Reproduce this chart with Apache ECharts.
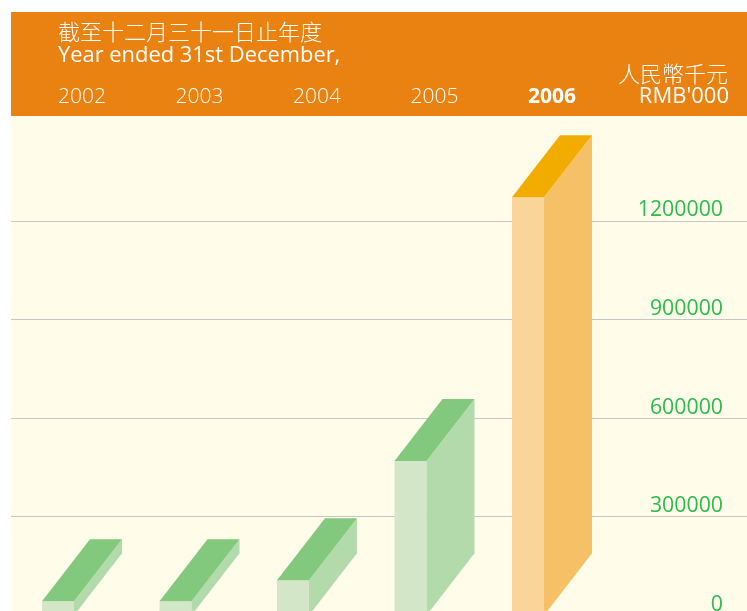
<!DOCTYPE html>
<html>
<head>
<meta charset="utf-8">
<title>Year ended 31st December</title>
<style>
html,body{margin:0;padding:0;background:#fff;}
#main{width:747px;height:611px;}
</style>
<script src="https://cdn.jsdelivr.net/npm/echarts@6/dist/echarts.min.js"></script>
</head>
<body>
<div id="main"></div>
<script>
var years = ['2002','2003','2004','2005','2006'];
var amounts = [42600,43000,106500,469500,1272000];
var highlightYear = '2006';
var axisMax = 1499000;
var tickStep = 300000;

var latinFont = '"Open Sans", sans-serif';
var cjkFont = '"Noto Sans CJK TC", sans-serif';

//grid 0 holds the bars, grid 1 the full width gridlines
var gridTop = 122.6, gridHeight = 492.7;
var greenFaces = {front:'#d3e6c8',side:'#b3daab',top:'#82c97d'};
var orangeFaces = {front:'#fad59a',side:'#f6c166',top:'#f2ac00'};

function renderBox(params,api){
    var idx = api.value(0);
    var top = api.coord([idx,api.value(1)]);
    var base = api.coord([idx,0]);
    var band = api.size([1,0])[0];
    var w = band * 32 / 117.5, dx = band * 48 / 117.5, dy = 62;
    var x0 = top[0] - (w + dx) / 2, x1 = x0 + w;
    var faces = years[idx] === highlightYear ? orangeFaces : greenFaces;
    return {
        type:'group',
        children:[
            {type:'rect',shape:{x:x0,y:top[1],width:w,height:base[1]-top[1]},style:{fill:faces.front}},
            {type:'polygon',shape:{points:[[x1,top[1]],[x1+dx,top[1]-dy],[x1+dx,base[1]-dy],[x1,base[1]]]},style:{fill:faces.side}},
            {type:'polygon',shape:{points:[[x0,top[1]],[x0+dx,top[1]-dy],[x1+dx,top[1]-dy],[x1,top[1]]]},style:{fill:faces.top}}
        ]
    };
}

var myChart = echarts.init(document.getElementById('main'),null,{renderer:'canvas'});
var option = {
    animation:false,
    backgroundColor:'#fff',
    graphic:[
        {type:'rect',z:-10,shape:{x:11,y:116,width:736,height:495},style:{fill:'#fffce9'},silent:true},
        {type:'rect',z:-10,shape:{x:11,y:12,width:736,height:104},style:{fill:'#ea8212'},silent:true},
        {type:'text',x:58,y:32,style:{text:'截至十二月三十一日止年度',font:'300 22px '+cjkFont,fill:'#fff',verticalAlign:'middle'}},
        {type:'text',x:58,y:55.5,style:{text:'Year ended 31st December,',font:'21.9px '+latinFont,fill:'#fff',verticalAlign:'middle'}},
        {type:'text',x:728,y:74,style:{text:'人民幣千元',font:'300 22px '+cjkFont,fill:'#fff',align:'right',verticalAlign:'middle'}},
        {type:'text',x:729,y:96.5,style:{text:"RMB'000",font:'500 22px '+latinFont,fill:'#fff',align:'right',verticalAlign:'middle'}}
    ],
    grid:[
        {left:23.25,width:587.5,top:gridTop,height:gridHeight,outerBoundsMode:'none'},
        {left:11,width:736,top:gridTop,height:gridHeight,outerBoundsMode:'none'}
    ],
    xAxis:[
        {
            type:'category',gridIndex:0,data:years,position:'top',offset:6.6,
            axisLine:{show:false},axisTick:{show:false},
            axisLabel:{
                margin:8,interval:0,hideOverlap:false,
                formatter:function(v){return v === highlightYear ? '{hi|'+v+'}' : v;},
                color:'#fff',fontFamily:latinFont,fontSize:21,fontWeight:300,
                rich:{hi:{color:'#fff',fontFamily:latinFont,fontSize:21,fontWeight:'bold'}}
            }
        },
        {type:'value',gridIndex:1,min:0,max:1,show:false}
    ],
    yAxis:[
        {type:'value',gridIndex:0,min:0,max:axisMax,show:false,splitLine:{show:false}},
        {
            type:'value',gridIndex:1,position:'right',min:0,max:axisMax,interval:tickStep,
            axisLine:{show:false},axisTick:{show:false},
            splitLine:{show:true,showMaxLine:false,showMinLine:false,lineStyle:{color:'#c6c6c4',width:1}},
            axisLabel:{
                inside:true,margin:24,showMaxLabel:false,verticalAlign:'bottom',hideOverlap:false,
                color:'#2dba4e',fontFamily:latinFont,fontSize:21.3,
                formatter:function(v){return String(v);}
            }
        }
    ],
    series:[{
        type:'custom',
        xAxisIndex:0,yAxisIndex:0,
        clip:false,
        z:5,
        renderItem:renderBox,
        encode:{x:0,y:1},
        data:amounts.map(function(v,i){return [i,v];})
    }]
};
myChart.setOption(option);
</script>
</body>
</html>
